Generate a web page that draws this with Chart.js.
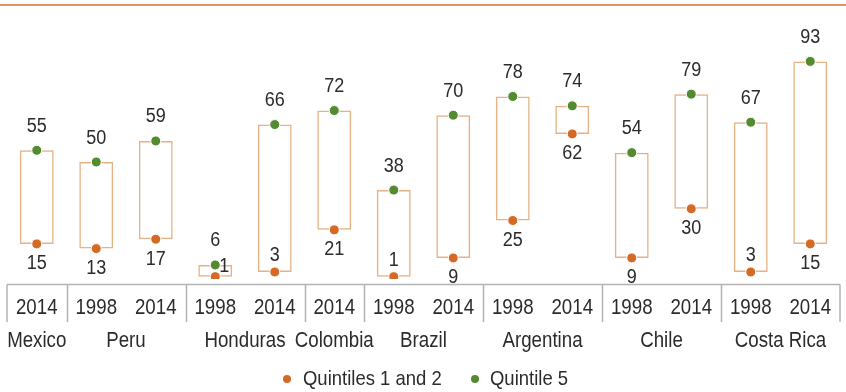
<!DOCTYPE html>
<html>
<head>
<meta charset="utf-8">
<script src="https://cdn.jsdelivr.net/npm/chart.js@4.4.1/dist/chart.umd.min.js"></script>
<style>
  html, body { margin: 0; padding: 0; background: #fff; }
  #wrap { width: 846px; height: 392px; }
</style>
</head>
<body>
<div id="wrap"><canvas id="c" width="846" height="392"></canvas></div>
<script>
// groups along the bottom and the survey years inside each group
var countries = ["Mexico", "Peru", "Honduras", "Colombia", "Brazil", "Argentina", "Chile", "Costa Rica"];
var years = [["2014"], ["1998", "2014"], ["1998", "2014"], ["2014"], ["1998", "2014"], ["1998", "2014"], ["1998", "2014"], ["1998", "2014"]];
// one value per year, same order as above
var quintiles12 = [15, 13, 17, 1, 3, 21, 1, 9, 25, 62, 9, 30, 3, 15];
var quintile5 = [55, 50, 59, 6, 66, 72, 38, 70, 78, 74, 54, 79, 67, 93];
var seriesNames = ["Quintiles 1 and 2", "Quintile 5"];

var FONT = "'Liberation Sans', Arial, sans-serif";
var TEXT = "#2b2b2b";
var ORANGE = "#d36a27";
var GREEN = "#548a30";
var BOX = "#e6b185";

var labels = [];
var groupOf = [];
countries.forEach(function (c, g) {
  years[g].forEach(function (y) {
    labels.push(c + " " + y);
    groupOf.push(g);
  });
});
var yearLabels = [].concat.apply([], years);

var ranges = quintiles12.map(function (lo, i) {
  return [lo, quintile5[i]];
});

// text drawn horizontally squeezed for a condensed face
function text(ctx, s, x, y, squeeze, align) {
  ctx.save();
  ctx.translate(x, y);
  ctx.scale(squeeze, 1);
  ctx.textAlign = align || "center";
  ctx.textBaseline = "middle";
  ctx.fillText(s, 0, 0);
  ctx.restore();
}

var decor = {
  id: "decor",
  afterDatasetsDraw: function (chart) {
    var ctx = chart.ctx;
    var x = chart.scales.x;
    var area = chart.chartArea;
    var lowPts = chart.getDatasetMeta(1).data;
    var highPts = chart.getDatasetMeta(2).data;

    ctx.save();
    ctx.fillStyle = TEXT;
    ctx.font = "20px " + FONT;

    // value labels
    highPts.forEach(function (p, i) {
      text(ctx, String(quintile5[i]), p.x, p.y - 24, 0.9);
    });
    lowPts.forEach(function (p, i) {
      var lo = quintiles12[i];
      var gap = quintile5[i] - lo;
      if (gap < 10) {
        text(ctx, String(lo), p.x + 4, p.y - 10, 0.9, "left");
      } else if (lo <= 3) {
        text(ctx, String(lo), p.x, p.y - 16, 0.9);
      } else {
        text(ctx, String(lo), p.x, p.y + 20, 0.9);
      }
    });

    // top rule
    ctx.strokeStyle = "#e4955f";
    ctx.lineWidth = 2;
    ctx.beginPath();
    ctx.moveTo(0, 5);
    ctx.lineTo(846, 5);
    ctx.stroke();

    // category table under the plot
    var tableTop = 284.5, tableBottom = 322;
    ctx.strokeStyle = "#b3b3b3";
    ctx.lineWidth = 1.5;
    ctx.beginPath();
    ctx.moveTo(area.left, tableTop);
    ctx.lineTo(area.right, tableTop);
    ctx.moveTo(area.left, tableTop);
    ctx.lineTo(area.left, tableBottom);
    ctx.moveTo(area.right, tableTop);
    ctx.lineTo(area.right, tableBottom);
    for (var i = 1; i < labels.length; i++) {
      if (groupOf[i] !== groupOf[i - 1]) {
        var bx = Math.round((x.getPixelForValue(i - 1) + x.getPixelForValue(i)) / 2) + 0.5;
        ctx.moveTo(bx, tableTop);
        ctx.lineTo(bx, tableBottom);
      }
    }
    ctx.stroke();

    ctx.font = "22px " + FONT;
    yearLabels.forEach(function (y, i) {
      text(ctx, y, x.getPixelForValue(i), 308, 0.85);
    });
    countries.forEach(function (c, g) {
      var first = groupOf.indexOf(g);
      var last = groupOf.lastIndexOf(g);
      var cx = (x.getPixelForValue(first) + x.getPixelForValue(last)) / 2;
      text(ctx, c, cx, 341, 0.85);
    });

    // legend
    ctx.font = "21px " + FONT;
    var colors = [ORANGE, GREEN];
    var dotX = [287, 475];
    var textX = [303, 490];
    seriesNames.forEach(function (s, k) {
      ctx.fillStyle = colors[k];
      ctx.beginPath();
      ctx.arc(dotX[k], 379, 4, 0, Math.PI * 2);
      ctx.fill();
      ctx.fillStyle = TEXT;
      text(ctx, s, textX[k], 379, 0.88, "left");
    });
    ctx.restore();
  }
};

new Chart(document.getElementById("c"), {
  data: {
    labels: labels,
    datasets: [
      {
        type: "bar",
        data: ranges,
        backgroundColor: "rgba(255,255,255,0)",
        borderColor: BOX,
        borderWidth: 1.5,
        borderSkipped: false,
        barPercentage: 0.57,
        categoryPercentage: 1,
        order: 3
      },
      {
        type: "line",
        label: seriesNames[0],
        data: quintiles12,
        showLine: false,
        pointRadius: 5,
        pointBackgroundColor: ORANGE,
        pointBorderColor: "#fff",
        pointBorderWidth: 1,
        order: 1
      },
      {
        type: "line",
        label: seriesNames[1],
        data: quintile5,
        showLine: false,
        pointRadius: 5,
        pointBackgroundColor: GREEN,
        pointBorderColor: "#fff",
        pointBorderWidth: 1,
        order: 0
      }
    ]
  },
  options: {
    responsive: false,
    animation: false,
    layout: { padding: { top: 45, bottom: 113, left: 7, right: 3 } },
    scales: {
      x: { display: false, offset: true },
      y: { display: false, min: 0, max: 100 }
    },
    plugins: {
      legend: { display: false },
      tooltip: { enabled: false }
    }
  },
  plugins: [decor]
});
</script>
</body>
</html>
